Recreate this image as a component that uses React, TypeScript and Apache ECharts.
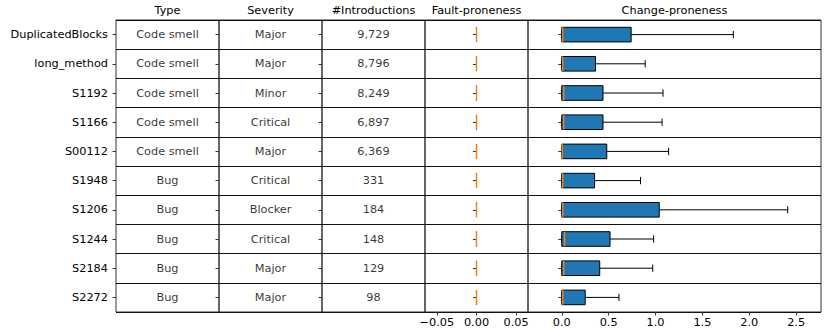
import React, { useEffect, useRef } from 'react';
import * as echarts from 'echarts';

const rules = ['DuplicatedBlocks', 'long_method', 'S1192', 'S1166', 'S00112', 'S1948', 'S1206', 'S1244', 'S2184', 'S2272'];
const ruleTypes = ['Code smell', 'Code smell', 'Code smell', 'Code smell', 'Code smell', 'Bug', 'Bug', 'Bug', 'Bug', 'Bug'];
const severities = ['Major', 'Major', 'Minor', 'Critical', 'Major', 'Critical', 'Blocker', 'Critical', 'Major', 'Major'];
const introductions = [9729, 8796, 8249, 6897, 6369, 331, 184, 148, 129, 98];

const faultMin = [0, 0, 0, 0, 0, 0, 0, 0, 0, 0];
const faultQ1 = [0, 0, 0, 0, 0, 0, 0, 0, 0, 0];
const faultMedian = [0, 0, 0, 0, 0, 0, 0, 0, 0, 0];
const faultQ3 = [0, 0, 0, 0, 0, 0, 0, 0, 0, 0];
const faultMax = [0, 0, 0, 0, 0, 0, 0, 0, 0, 0];

const changeMin = [0, 0, 0, 0, 0, 0, 0, 0, 0, 0];
const changeQ1 = [0, 0, 0, 0, 0, 0, 0, 0, 0, 0];
const changeMedian = [0.01, 0.01, 0.02, 0.02, 0.005, 0.01, 0.01, 0.03, 0.02, 0.01];
const changeQ3 = [0.74, 0.36, 0.44, 0.44, 0.48, 0.35, 1.04, 0.515, 0.405, 0.25];
const changeMax = [1.83, 0.89, 1.08, 1.07, 1.14, 0.84, 2.41, 0.98, 0.97, 0.61];

const faultTicks = [-0.05, 0, 0.05];
const changeTicks = [0, 0.5, 1, 1.5, 2, 2.5];
const headers = ['Type', 'Severity', '#Introductions', 'Fault-proneness', 'Change-proneness'];

const FONT = 'DejaVu Sans';
const FS = 11.3;
const panels = [
  { left: 116, width: 103 },
  { left: 219, width: 103 },
  { left: 322, width: 103 },
  { left: 425, width: 103 },
  { left: 528, width: 293 },
];
const TOP = 20;
const HEIGHT = 292;

const fmtNum = (n: number) => n.toLocaleString('en-US');
const minusFmt = (digits: number) => (v: number) =>
  (v < 0 ? '\u2212' : '') + Math.abs(v).toFixed(digits);

const boxRender = (params: any, api: any) => {
  const cat = api.value(0);
  const vals = [1, 2, 3, 4, 5].map((d) => api.value(d));
  const xs = vals.map((v) => api.coord([v, cat])[0]);
  const yc = api.coord([0, cat])[1];
  const band = api.size([0, 1])[1];
  const hb = band * 0.25;
  const hc = band * 0.125;
  const black = { stroke: '#000', lineWidth: 1 };
  return {
    type: 'group',
    children: [
      { type: 'line', shape: { x1: xs[0], y1: yc, x2: xs[1], y2: yc }, style: black },
      { type: 'line', shape: { x1: xs[3], y1: yc, x2: xs[4], y2: yc }, style: black },
      { type: 'line', shape: { x1: xs[0], y1: yc - hc, x2: xs[0], y2: yc + hc }, style: black },
      { type: 'line', shape: { x1: xs[4], y1: yc - hc, x2: xs[4], y2: yc + hc }, style: black },
      {
        type: 'rect',
        shape: { x: xs[1], y: yc - hb, width: xs[3] - xs[1], height: 2 * hb },
        style: { fill: '#1f77b4', stroke: '#000', lineWidth: 1 },
      },
      {
        type: 'line',
        shape: { x1: xs[2], y1: yc - hb, x2: xs[2], y2: yc + hb },
        style: { stroke: '#ff7f0e', lineWidth: 1.5 },
      },
    ],
  };
};

function buildOption() {
  const grids = panels.map((p) => ({
    left: p.left,
    top: TOP,
    width: p.width,
    height: HEIGHT,
    show: true,
    borderColor: '#333',
    borderWidth: 1,
    backgroundColor: 'transparent',
  }));

  const yAxes = panels.map((_, i) => ({
    type: 'category',
    gridIndex: i,
    data: rules,
    inverse: true,
    axisLine: { show: false },
    axisTick: { show: true, alignWithLabel: true, length: 3.5, lineStyle: { color: '#333' } },
    axisLabel: {
      show: i === 0,
      margin: 8,
      fontSize: FS,
      fontFamily: FONT,
      color: '#000',
    },
    splitLine: { show: true, lineStyle: { color: '#111', width: 1 } },
  }));

  const hiddenX = (i: number) => ({
    type: 'value',
    gridIndex: i,
    min: 0,
    max: 1,
    axisLine: { show: false },
    axisTick: { show: false },
    axisLabel: { show: false },
    splitLine: { show: false },
  });

  const xAxes: any[] = [
    hiddenX(0),
    hiddenX(1),
    hiddenX(2),
    {
      type: 'value',
      gridIndex: 3,
      min: -0.065,
      max: 0.065,
      axisLine: { show: false },
      axisTick: { show: true, length: 3.5, customValues: faultTicks, lineStyle: { color: '#333' } },
      axisLabel: {
        show: true,
        customValues: faultTicks,
        formatter: minusFmt(2),
        margin: 5,
        fontSize: FS,
        fontFamily: FONT,
        color: '#000',
      },
      splitLine: { show: false },
    },
    {
      type: 'value',
      gridIndex: 4,
      min: -0.36,
      max: 2.765,
      axisLine: { show: false },
      axisTick: { show: true, length: 3.5, customValues: changeTicks, lineStyle: { color: '#333' } },
      axisLabel: {
        show: true,
        customValues: changeTicks,
        formatter: minusFmt(1),
        margin: 5,
        fontSize: FS,
        fontFamily: FONT,
        color: '#000',
      },
      splitLine: { show: false },
    },
  ];

  const textSeries = (i: number, texts: string[]) => ({
    type: 'scatter',
    xAxisIndex: i,
    yAxisIndex: i,
    silent: true,
    symbolSize: 1,
    itemStyle: { color: 'rgba(0,0,0,0)' },
    data: rules.map((r) => [0.5, r]),
    label: {
      show: true,
      position: 'inside',
      formatter: (p: any) => texts[p.dataIndex],
      fontSize: FS,
      fontFamily: FONT,
      color: '#000',
    },
  });

  const boxSeries = (i: number, mn: number[], q1: number[], md: number[], q3: number[], mx: number[]) => ({
    type: 'custom',
    xAxisIndex: i,
    yAxisIndex: i,
    silent: true,
    renderItem: boxRender,
    encode: { x: [1, 2, 3, 4, 5], y: 0 },
    data: rules.map((r, k) => [r, mn[k], q1[k], md[k], q3[k], mx[k]]),
  });

  return {
    animation: false,
    backgroundColor: '#fff',
    textStyle: { fontFamily: FONT },
    grid: grids,
    xAxis: xAxes,
    yAxis: yAxes,
    graphic: headers.map((h, i) => ({
      type: 'text',
      x: panels[i].left + panels[i].width / 2,
      y: 10,
      silent: true,
      style: {
        text: h,
        align: 'center',
        verticalAlign: 'middle',
        fontSize: FS,
        fontFamily: FONT,
        fill: '#000',
      },
    })),
    series: [
      textSeries(0, ruleTypes),
      textSeries(1, severities),
      textSeries(2, introductions.map(fmtNum)),
      boxSeries(3, faultMin, faultQ1, faultMedian, faultQ3, faultMax),
      boxSeries(4, changeMin, changeQ1, changeMedian, changeQ3, changeMax),
    ],
  };
}

export default function App() {
  const ref = useRef<HTMLDivElement>(null);
  useEffect(() => {
    if (!ref.current) return;
    const chart = echarts.init(ref.current, null, { renderer: 'svg' });
    chart.setOption(buildOption() as any);
    return () => chart.dispose();
  }, []);
  return (
    <div
      ref={ref}
      style={{ position: 'absolute', left: 0, top: 0, width: 830, height: 332 }}
    />
  );
}
